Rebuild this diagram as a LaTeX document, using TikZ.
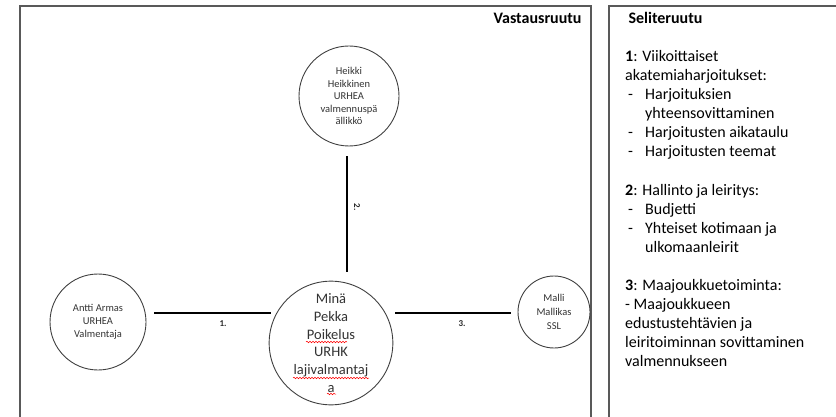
\documentclass[tikz,border=0pt]{standalone}
\usepackage{fontspec}
\setmainfont{Carlito}
\usetikzlibrary{decorations.pathmorphing}
\newcommand{\dashitem}[1]{\hspace*{3pt}\makebox[17pt][l]{-}#1}
\tikzset{person/.style={circle,draw=black!75,line width=0.9pt,inner sep=0pt,align=center,text=black!80},
link/.style={line width=2pt},
frame/.style={draw=black!65,line width=1.2pt},
linklabel/.style={font=\bfseries\fontsize{9}{10}\selectfont,text=black!85},
heading/.style={font=\bfseries\fontsize{16}{19}\selectfont},
speller/.style={red,line width=0.5pt,decorate,decoration={snake,amplitude=0.8pt,segment length=3pt}}}

\begin{document}
\begin{tikzpicture}[x=1pt,y=-1pt]
  \useasboundingbox (0,0) rectangle (836,417);
  \clip (0,0) rectangle (836,417);
  \draw[frame] (20,6) rectangle (591,440);
  \draw[frame] (609,6) rectangle (860,440);
  \node[heading,anchor=base east] (vastaus) at (585,24) {Vastausruutu};
  \node[heading,anchor=base west] (selite) at (625,24) {Seliteruutu};
  % persons
  \node[person,minimum size=100pt,font=\fontsize{10.5}{12.5}\selectfont] (heikki) at (349,96)
    {Heikki\\Heikkinen\\URHEA\\valmennuspä\\ällikkö};
  \node[person,minimum size=122pt,font=\fontsize{14.5}{17.7}\selectfont] (mina) at (331,343)
    {Minä\\Pekka\\Poikelus\\URHK\\lajivalmantaj\\a};
  \node[person,minimum size=96pt,font=\fontsize{10.5}{13}\selectfont] (antti) at (98,322)
    {Antti Armas\\URHEA\\Valmentaja};
  \node[person,minimum size=72pt,font=\fontsize{10.5}{14}\selectfont] (malli) at (554,312)
    {Malli\\Mallikas\\SSL};
  % spelling marks
  \draw[speller] (306,342) -- (347,342);
  \draw[speller] (293,378) -- (369,378);
  \draw[speller] (327,394) -- (336,394);
  % links
  \draw[link] ([shift={(8,-9)}]antti.east) -- ([shift={(2,-30)}]mina.west)
    node[linklabel,pos=0.59,below=3pt] {1.};
  \draw[link] ([shift={(-2,10)}]heikki.south) -- ([shift={(16,-9)}]mina.north)
    node[linklabel,pos=0.44,xshift=10pt,rotate=-90] {2.};
  \draw[link] ([shift={(2,-30)}]mina.east) -- ([shift={(-7,1)}]malli.west)
    node[linklabel,pos=0.58,below=3pt] {3.};
  % legend
  \node[anchor=north west,inner sep=0pt,align=left,font=\fontsize{16}{19.1}\selectfont] (legend) at (625,50)
    {\textbf{1}: Viikoittaiset\\
     akatemiaharjoitukset:\\
     \dashitem{Harjoituksien}\\
     \hspace*{20pt}yhteensovittaminen\\
     \dashitem{Harjoitusten aikataulu}\\
     \dashitem{Harjoitusten teemat}\\
     \mbox{}\\
     \textbf{2}: Hallinto ja leiritys:\\
     \dashitem{Budjetti}\\
     \dashitem{Yhteiset kotimaan ja}\\
     \hspace*{20pt}ulkomaanleirit\\
     \mbox{}\\
     \textbf{3}: Maajoukkuetoiminta:\\
     - Maajoukkueen\\
     edustustehtävien ja\\
     leiritoiminnan sovittaminen\\
     valmennukseen};
\end{tikzpicture}
\end{document}
